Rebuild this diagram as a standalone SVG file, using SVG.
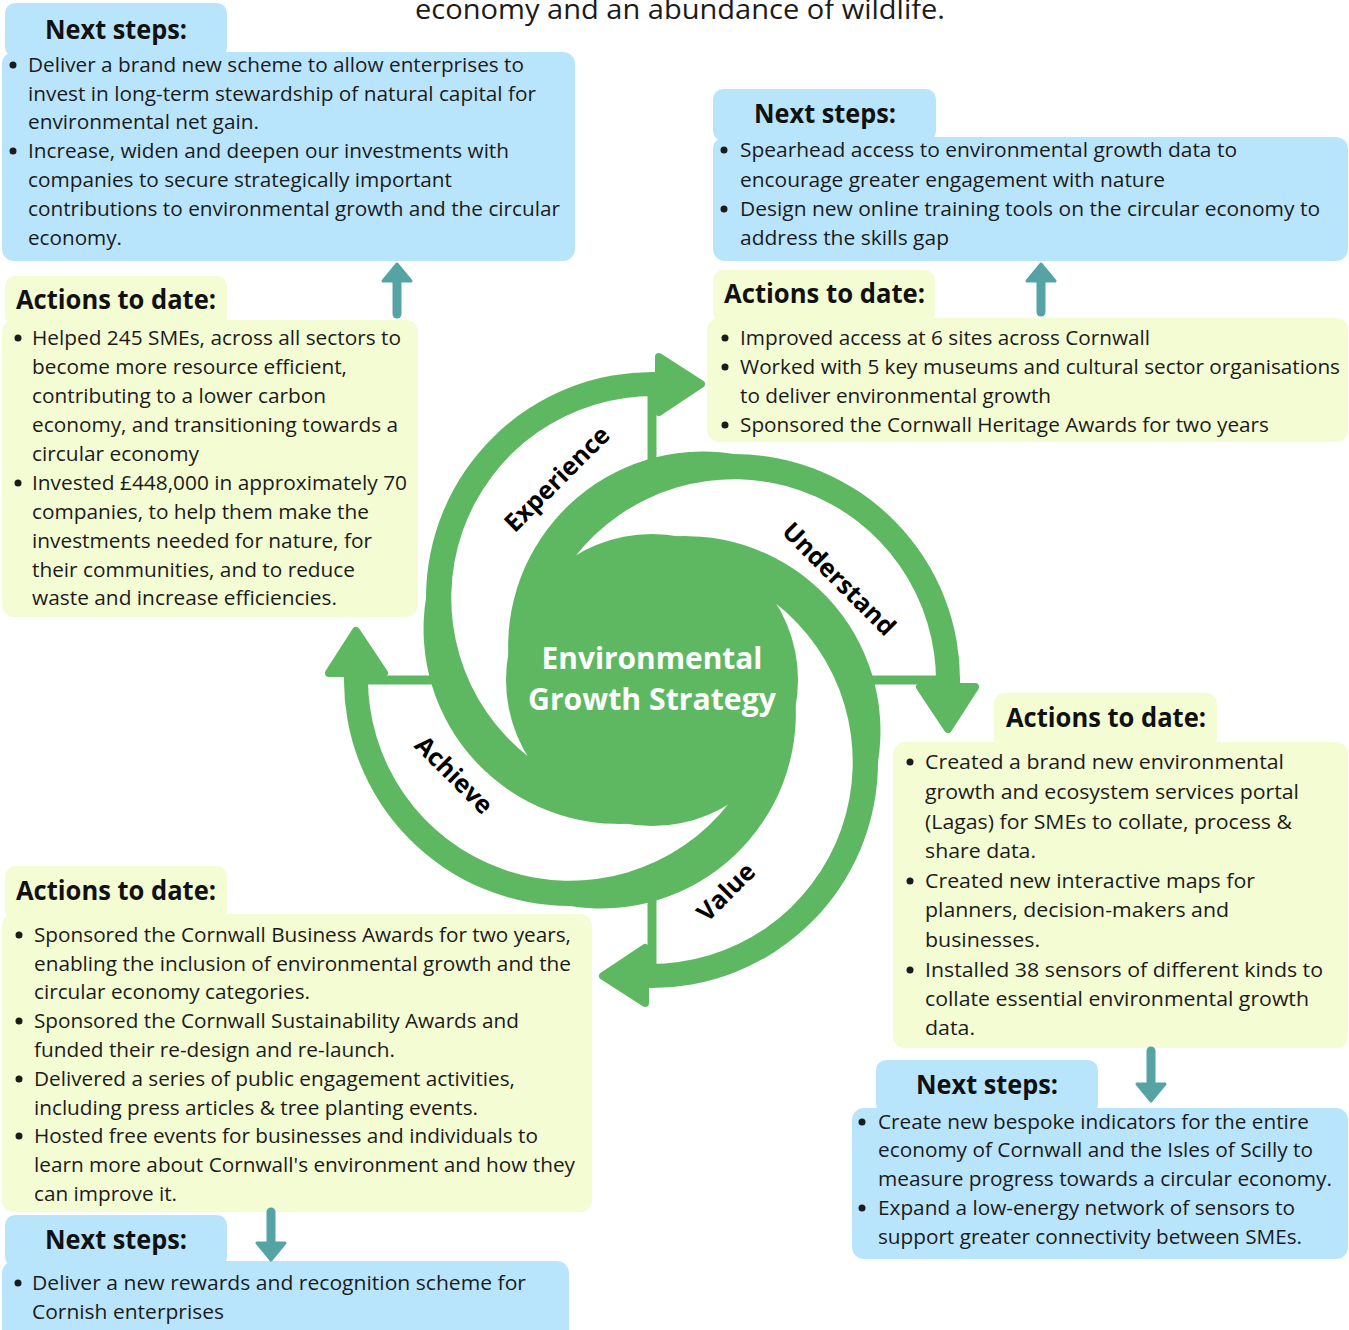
<svg xmlns="http://www.w3.org/2000/svg" xmlns:xlink="http://www.w3.org/1999/xlink" width="1349" height="1330" viewBox="0 0 1349 1330">
<style>
.t{font-family:"Open Sans","Liberation Sans",sans-serif;font-size:20px;fill:#1b1b1b}
.h{font-family:"Open Sans","Liberation Sans",sans-serif;font-weight:700;font-size:26px;fill:#111}
.d{fill:#1b1b1b}
.blue{fill:#b9e5fc}
.yel{fill:#f4fcd3}
.g{fill:#5eb862}
.lbl{font-family:"Open Sans","Liberation Sans",sans-serif;font-weight:700;font-size:25px;fill:#000;text-anchor:middle;dominant-baseline:central}
.ctr{font-family:"Open Sans","Liberation Sans",sans-serif;font-weight:700;font-size:30px;fill:#fff;text-anchor:middle}
.ta{stroke:#56a3a5;stroke-width:9;stroke-linecap:round;fill:none}
.th{fill:#56a3a5;stroke:#56a3a5;stroke-width:3;stroke-linejoin:round}
</style>
<defs>
<g id="arm">
<path class="g" d="M 657 372 A 226 226 0 0 0 426 598 A 195 195 0 0 0 637 823 L 640 700 L 530 758 A 202 202 0 0 1 657 396 Z"/>
<polygon class="g" points="659,357 701,384 659,412" stroke="#5eb862" stroke-width="8" stroke-linejoin="round"/>
<line x1="652" y1="392" x2="652" y2="472" stroke="#5eb862" stroke-width="9"/>
</g>
</defs>
<rect width="1349" height="1330" fill="#fff"/>
<text class="t" x="415" y="19" style="font-size:28px" textLength="530" lengthAdjust="spacingAndGlyphs">economy and an abundance of wildlife.</text>

<g id="cycle">
<use xlink:href="#arm"/>
<use xlink:href="#arm" transform="rotate(90 652 680)"/>
<use xlink:href="#arm" transform="rotate(180 652 680)"/>
<use xlink:href="#arm" transform="rotate(270 652 680)"/>
<circle class="g" cx="652" cy="680" r="146"/>
<text class="ctr" x="652" y="669" textLength="221" lengthAdjust="spacingAndGlyphs">Environmental</text>
<text class="ctr" x="652" y="710" textLength="248" lengthAdjust="spacingAndGlyphs">Growth Strategy</text>
<text class="lbl" transform="translate(556 478) rotate(-45)">Experience</text>
<text class="lbl" transform="translate(840 578) rotate(45)">Understand</text>
<text class="lbl" transform="translate(725 891) rotate(-45)">Value</text>
<text class="lbl" transform="translate(455 774) rotate(45)">Achieve</text>
</g>

<g id="next-top-left">
<rect class="blue" x="5" y="3" width="222" height="54" rx="10"/>
<rect class="blue" x="2" y="52" width="573" height="209" rx="12"/>
<text class="h" x="45" y="39" textLength="142" lengthAdjust="spacingAndGlyphs">Next steps:</text>
<circle class="d" cx="13" cy="65" r="3.5"/>
<text class="t" x="28" y="72" textLength="496" lengthAdjust="spacingAndGlyphs">Deliver a brand new scheme to allow enterprises to</text>
<text class="t" x="28" y="101" textLength="508" lengthAdjust="spacingAndGlyphs">invest in long-term stewardship of natural capital for</text>
<text class="t" x="28" y="129" textLength="231" lengthAdjust="spacingAndGlyphs">environmental net gain.</text>
<circle class="d" cx="13" cy="151" r="3.5"/>
<text class="t" x="28" y="158" textLength="481" lengthAdjust="spacingAndGlyphs">Increase, widen and deepen our investments with</text>
<text class="t" x="28" y="187" textLength="424" lengthAdjust="spacingAndGlyphs">companies to secure strategically important</text>
<text class="t" x="28" y="216" textLength="532" lengthAdjust="spacingAndGlyphs">contributions to environmental growth and the circular</text>
<text class="t" x="28" y="245" textLength="94" lengthAdjust="spacingAndGlyphs">economy.</text>
</g>

<g id="actions-top-left">
<rect class="yel" x="5" y="276" width="222" height="50" rx="10"/>
<rect class="yel" x="2" y="320" width="416" height="297" rx="12"/>
<text class="h" x="16" y="309" textLength="200" lengthAdjust="spacingAndGlyphs">Actions to date:</text>
<circle class="d" cx="18" cy="338" r="3.5"/>
<text class="t" x="32" y="345" textLength="369" lengthAdjust="spacingAndGlyphs">Helped 245 SMEs, across all sectors to</text>
<text class="t" x="32" y="374" textLength="315" lengthAdjust="spacingAndGlyphs">become more resource efficient,</text>
<text class="t" x="32" y="403" textLength="294" lengthAdjust="spacingAndGlyphs">contributing to a lower carbon</text>
<text class="t" x="32" y="432" textLength="366" lengthAdjust="spacingAndGlyphs">economy, and transitioning towards a</text>
<text class="t" x="32" y="461" textLength="167" lengthAdjust="spacingAndGlyphs">circular economy</text>
<circle class="d" cx="18" cy="483" r="3.5"/>
<text class="t" x="32" y="490" textLength="375" lengthAdjust="spacingAndGlyphs">Invested £448,000 in approximately 70</text>
<text class="t" x="32" y="519" textLength="337" lengthAdjust="spacingAndGlyphs">companies, to help them make the</text>
<text class="t" x="32" y="548" textLength="340" lengthAdjust="spacingAndGlyphs">investments needed for nature, for</text>
<text class="t" x="32" y="577" textLength="323" lengthAdjust="spacingAndGlyphs">their communities, and to reduce</text>
<text class="t" x="32" y="605" textLength="305" lengthAdjust="spacingAndGlyphs">waste and increase efficiencies.</text>
</g>

<g id="next-top-right">
<rect class="blue" x="713" y="89" width="223" height="52" rx="10"/>
<rect class="blue" x="713" y="137" width="635" height="124" rx="12"/>
<text class="h" x="754" y="123" textLength="142" lengthAdjust="spacingAndGlyphs">Next steps:</text>
<circle class="d" cx="724" cy="150" r="3.5"/>
<text class="t" x="740" y="157" textLength="497" lengthAdjust="spacingAndGlyphs">Spearhead access to environmental growth data to</text>
<text class="t" x="740" y="187" textLength="425" lengthAdjust="spacingAndGlyphs">encourage greater engagement with nature</text>
<circle class="d" cx="724" cy="209" r="3.5"/>
<text class="t" x="740" y="216" textLength="580" lengthAdjust="spacingAndGlyphs">Design new online training tools on the circular economy to</text>
<text class="t" x="740" y="245" textLength="209" lengthAdjust="spacingAndGlyphs">address the skills gap</text>
</g>

<g id="actions-top-right">
<rect class="yel" x="713" y="270" width="222" height="52" rx="10"/>
<rect class="yel" x="707" y="318" width="641" height="124" rx="12"/>
<text class="h" x="724" y="303" textLength="201" lengthAdjust="spacingAndGlyphs">Actions to date:</text>
<circle class="d" cx="725" cy="338" r="3.5"/>
<text class="t" x="740" y="345" textLength="410" lengthAdjust="spacingAndGlyphs">Improved access at 6 sites across Cornwall</text>
<circle class="d" cx="725" cy="367" r="3.5"/>
<text class="t" x="740" y="374" textLength="600" lengthAdjust="spacingAndGlyphs">Worked with 5 key museums and cultural sector organisations</text>
<text class="t" x="740" y="403" textLength="311" lengthAdjust="spacingAndGlyphs">to deliver environmental growth</text>
<circle class="d" cx="725" cy="425" r="3.5"/>
<text class="t" x="740" y="432" textLength="529" lengthAdjust="spacingAndGlyphs">Sponsored the Cornwall Heritage Awards for two years</text>
</g>

<g id="actions-right">
<rect class="yel" x="994" y="693" width="223" height="55" rx="10"/>
<rect class="yel" x="893" y="742" width="455" height="306" rx="12"/>
<text class="h" x="1006" y="727" textLength="200" lengthAdjust="spacingAndGlyphs">Actions to date:</text>
<circle class="d" cx="910" cy="762" r="3.5"/>
<text class="t" x="925" y="769" textLength="359" lengthAdjust="spacingAndGlyphs">Created a brand new environmental</text>
<text class="t" x="925" y="799" textLength="374" lengthAdjust="spacingAndGlyphs">growth and ecosystem services portal</text>
<text class="t" x="925" y="829" textLength="367" lengthAdjust="spacingAndGlyphs">(Lagas) for SMEs to collate, process &amp;</text>
<text class="t" x="925" y="858" textLength="111" lengthAdjust="spacingAndGlyphs">share data.</text>
<circle class="d" cx="910" cy="881" r="3.5"/>
<text class="t" x="925" y="888" textLength="330" lengthAdjust="spacingAndGlyphs">Created new interactive maps for</text>
<text class="t" x="925" y="917" textLength="304" lengthAdjust="spacingAndGlyphs">planners, decision-makers and</text>
<text class="t" x="925" y="947" textLength="115" lengthAdjust="spacingAndGlyphs">businesses.</text>
<circle class="d" cx="910" cy="970" r="3.5"/>
<text class="t" x="925" y="977" textLength="398" lengthAdjust="spacingAndGlyphs">Installed 38 sensors of different kinds to</text>
<text class="t" x="925" y="1006" textLength="384" lengthAdjust="spacingAndGlyphs">collate essential environmental growth</text>
<text class="t" x="925" y="1035" textLength="50" lengthAdjust="spacingAndGlyphs">data.</text>
</g>

<g id="next-right">
<rect class="blue" x="876" y="1060" width="222" height="54" rx="10"/>
<rect class="blue" x="852" y="1108" width="496" height="151" rx="12"/>
<text class="h" x="916" y="1094" textLength="142" lengthAdjust="spacingAndGlyphs">Next steps:</text>
<circle class="d" cx="862" cy="1122" r="3.5"/>
<text class="t" x="878" y="1129" textLength="431" lengthAdjust="spacingAndGlyphs">Create new bespoke indicators for the entire</text>
<text class="t" x="878" y="1157" textLength="435" lengthAdjust="spacingAndGlyphs">economy of Cornwall and the Isles of Scilly to</text>
<text class="t" x="878" y="1186" textLength="454" lengthAdjust="spacingAndGlyphs">measure progress towards a circular economy.</text>
<circle class="d" cx="862" cy="1208" r="3.5"/>
<text class="t" x="878" y="1215" textLength="417" lengthAdjust="spacingAndGlyphs">Expand a low-energy network of sensors to</text>
<text class="t" x="878" y="1244" textLength="424" lengthAdjust="spacingAndGlyphs">support greater connectivity between SMEs.</text>
</g>

<g id="actions-bottom-left">
<rect class="yel" x="5" y="866" width="222" height="54" rx="10"/>
<rect class="yel" x="2" y="914" width="590" height="298" rx="12"/>
<text class="h" x="16" y="900" textLength="200" lengthAdjust="spacingAndGlyphs">Actions to date:</text>
<circle class="d" cx="19" cy="935" r="3.5"/>
<text class="t" x="34" y="942" textLength="537" lengthAdjust="spacingAndGlyphs">Sponsored the Cornwall Business Awards for two years,</text>
<text class="t" x="34" y="971" textLength="537" lengthAdjust="spacingAndGlyphs">enabling the inclusion of environmental growth and the</text>
<text class="t" x="34" y="999" textLength="276" lengthAdjust="spacingAndGlyphs">circular economy categories.</text>
<circle class="d" cx="19" cy="1021" r="3.5"/>
<text class="t" x="34" y="1028" textLength="485" lengthAdjust="spacingAndGlyphs">Sponsored the Cornwall Sustainability Awards and</text>
<text class="t" x="34" y="1057" textLength="361" lengthAdjust="spacingAndGlyphs">funded their re-design and re-launch.</text>
<circle class="d" cx="19" cy="1079" r="3.5"/>
<text class="t" x="34" y="1086" textLength="481" lengthAdjust="spacingAndGlyphs">Delivered a series of public engagement activities,</text>
<text class="t" x="34" y="1115" textLength="444" lengthAdjust="spacingAndGlyphs">including press articles &amp; tree planting events.</text>
<circle class="d" cx="19" cy="1136" r="3.5"/>
<text class="t" x="34" y="1143" textLength="504" lengthAdjust="spacingAndGlyphs">Hosted free events for businesses and individuals to</text>
<text class="t" x="34" y="1172" textLength="541" lengthAdjust="spacingAndGlyphs">learn more about Cornwall's environment and how they</text>
<text class="t" x="34" y="1201" textLength="143" lengthAdjust="spacingAndGlyphs">can improve it.</text>
</g>

<g id="next-bottom-left">
<rect class="blue" x="5" y="1215" width="222" height="52" rx="10"/>
<rect class="blue" x="2" y="1261" width="567" height="80" rx="12"/>
<text class="h" x="45" y="1249" textLength="142" lengthAdjust="spacingAndGlyphs">Next steps:</text>
<circle class="d" cx="18" cy="1283" r="3.5"/>
<text class="t" x="32" y="1290" textLength="494" lengthAdjust="spacingAndGlyphs">Deliver a new rewards and recognition scheme for</text>
<text class="t" x="32" y="1319" textLength="192" lengthAdjust="spacingAndGlyphs">Cornish enterprises</text>
</g>

<g id="connectors">
<line class="ta" x1="397" y1="314" x2="397" y2="280"/>
<polygon class="th" points="397,264 383,281 411,281"/>
<line class="ta" x1="1041" y1="312" x2="1041" y2="280"/>
<polygon class="th" points="1041,264 1027,281 1055,281"/>
<line class="ta" x1="1151" y1="1051" x2="1151" y2="1086"/>
<polygon class="th" points="1151,1101 1137,1084 1165,1084"/>
<line class="ta" x1="271" y1="1212" x2="271" y2="1245"/>
<polygon class="th" points="271,1260 257,1243 285,1243"/>
</g>
</svg>
